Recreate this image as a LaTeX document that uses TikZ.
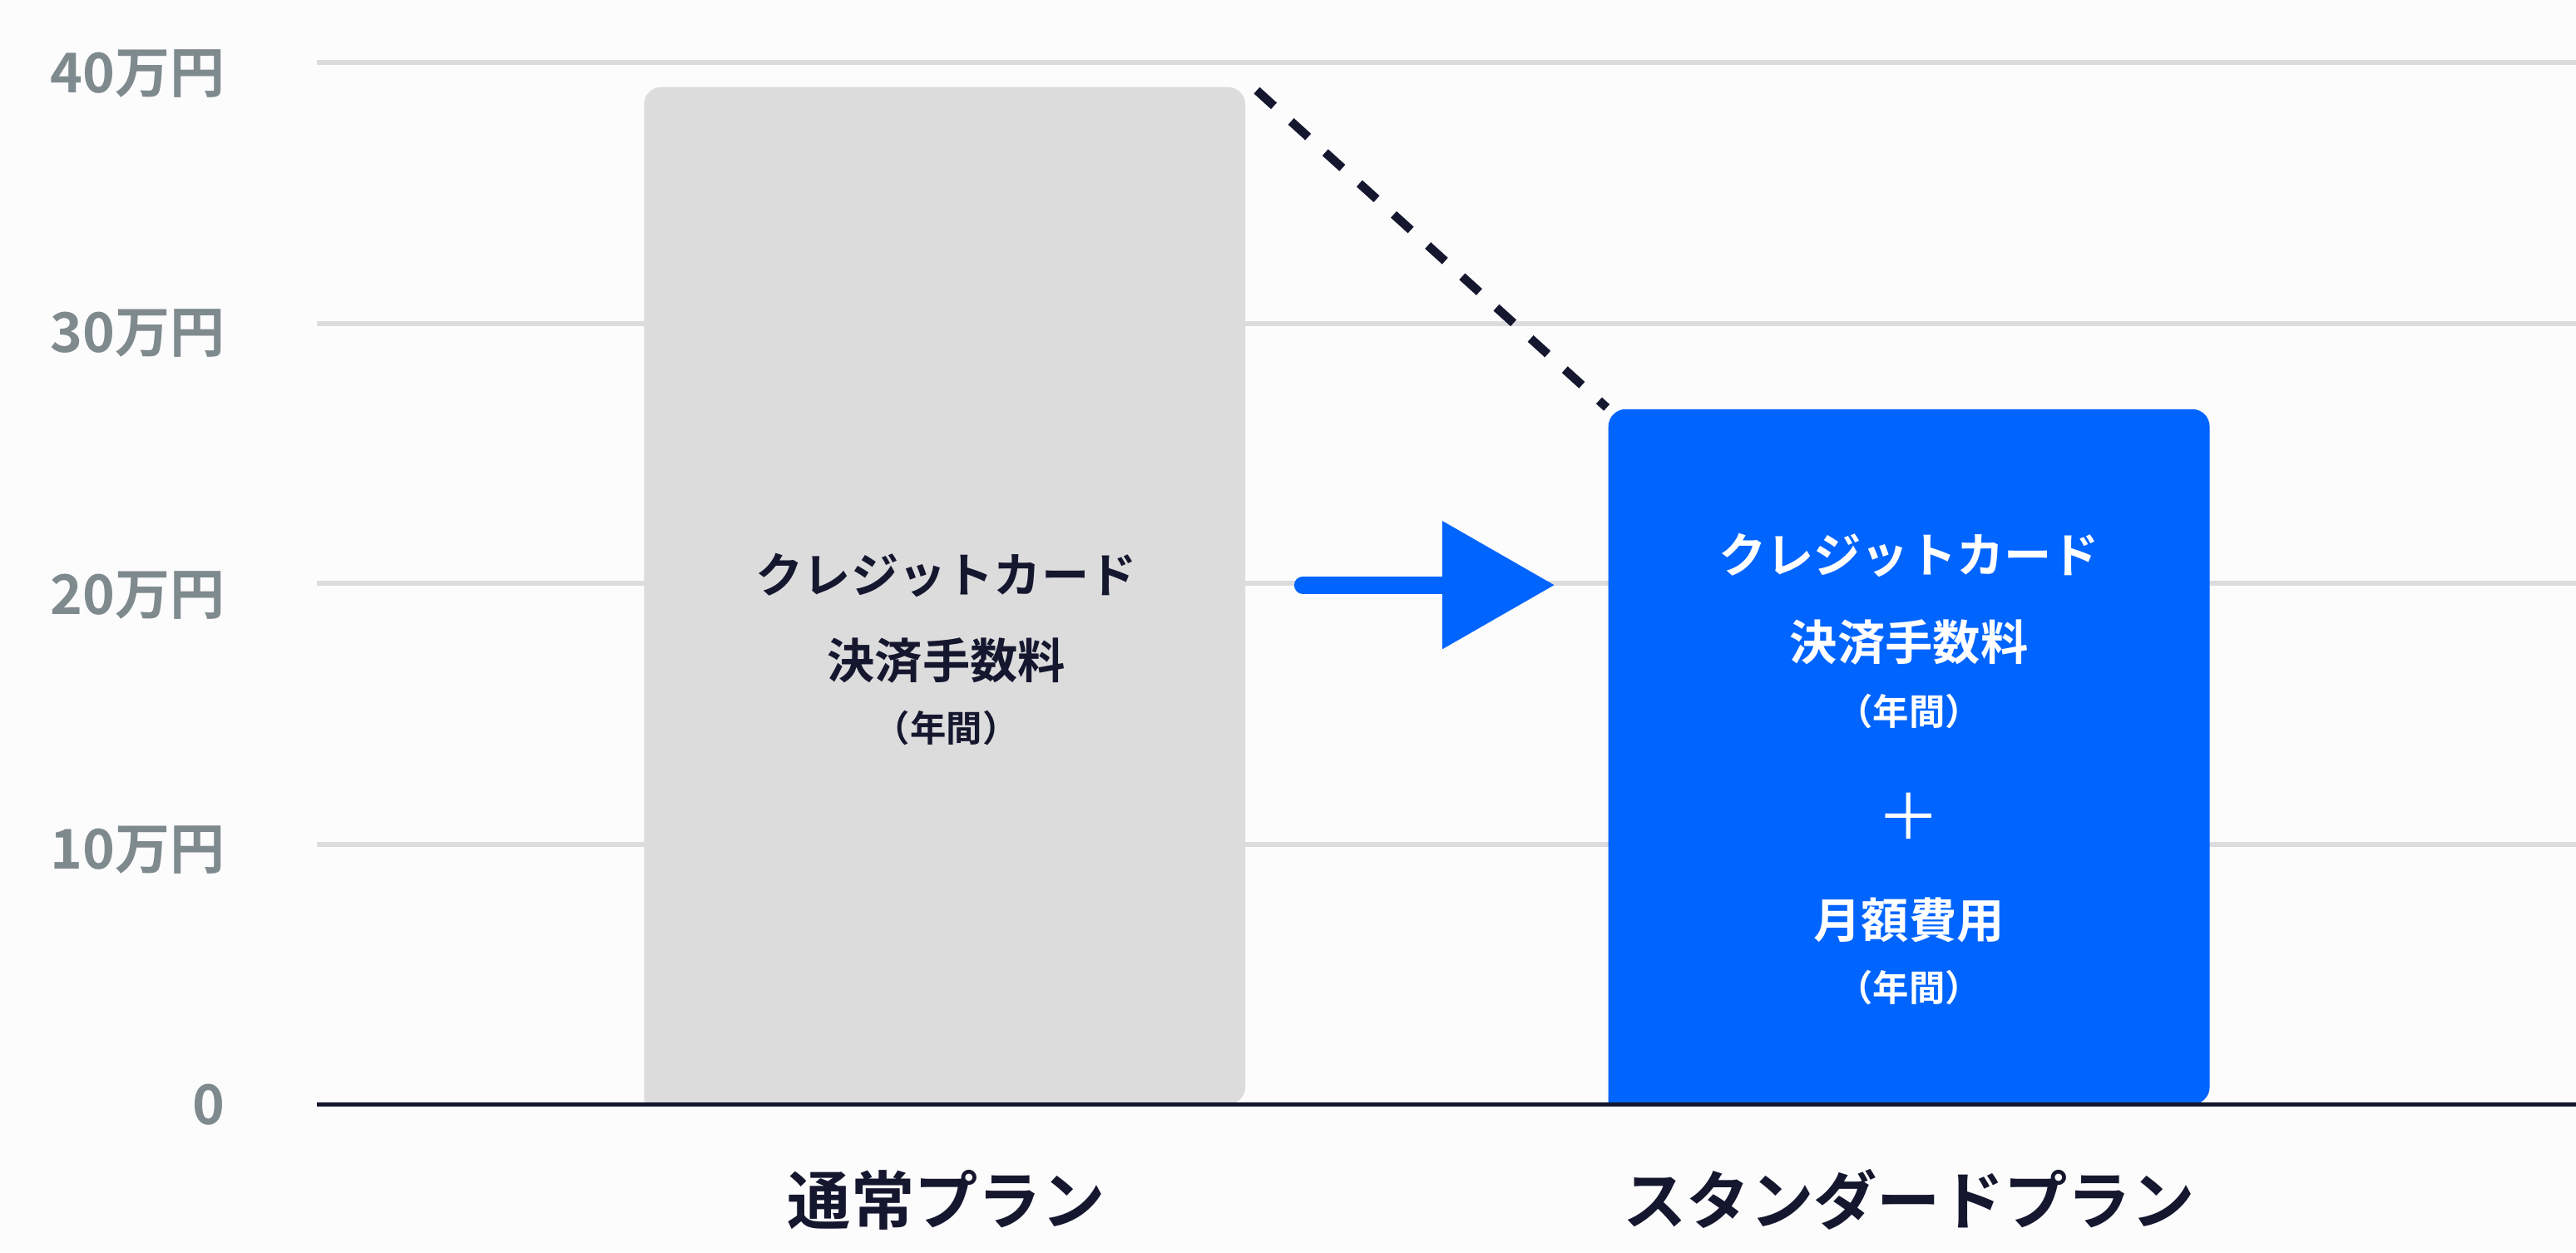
\documentclass[tikz,border=0pt]{standalone}
\usepackage{fontspec}
\setmainfont{Noto Sans CJK JP}[BoldFont={Noto Sans CJK JP Bold}]
\definecolor{navy}{HTML}{14172E}
\definecolor{gridc}{HTML}{DCDCDE}
\definecolor{barg}{HTML}{DCDCDD}
\definecolor{blu}{HTML}{0064FF}
\definecolor{axl}{HTML}{7F8A8E}
\definecolor{bg}{HTML}{FCFCFD}
\begin{document}
\begin{tikzpicture}[x=0.02cm,y=-0.02cm,
  grid/.style={gridc,line width=1.6pt},
  ylab/.style={anchor=east,text=axl,font=\fontsize{19}{20}\selectfont\bfseries},
  big/.style={font=\fontsize{16.5}{18}\selectfont\bfseries},
  small/.style={font=\fontsize{12.5}{14}\selectfont\bfseries},
  cat/.style={text=navy,font=\fontsize{22}{24}\selectfont\bfseries}]
\fill[bg] (0,0) rectangle (1568,762);
\useasboundingbox (0,0) rectangle (1568,762);
\foreach \y in {38,197,355,514} \draw[grid] (193,\y) -- (1568,\y);
\node[ylab] (l40) at (143,45) {40万円};
\node[ylab] (l30) at (143,203) {30万円};
\node[ylab] (l20) at (143,362) {20万円};
\node[ylab] (l10) at (143,517) {10万円};
\node[ylab] (l0) at (143,672) {0};
\fill[barg,rounded corners=6pt] (392,672) -- (392,53) -- (758,53) -- (758,672) [sharp corners] -- cycle;
\fill[blu,rounded corners=6pt] (979,672) -- (979,249) -- (1345,249) -- (1345,672) [sharp corners] -- cycle;
\draw[navy,line width=1.4pt] (193,672) -- (1568,672);
\coordinate (d1) at (765,55); \coordinate (d2) at (978,248);
\draw[navy,line width=3pt,dash pattern=on 8pt off 8pt] (d1) -- (d2);
\coordinate (a1) at (793,356); \coordinate (a2) at (882,356);
\draw[blu,line width=6pt,line cap=round] (a1) -- (a2);
\fill[blu] (878,317) -- (946,356) -- (878,395) -- cycle;
\begin{scope}[text=navy]
\node[big] (g1) at (576,350) {クレジットカード};
\node[big] (g2) at (576,402) {決済手数料};
\node[small] (g3) at (576,443) {（年間）};
\end{scope}
\begin{scope}[text=white]
\node[big] (b1) at (1162,338) {クレジットカード};
\node[big] (b2) at (1162,391) {決済手数料};
\node[small] (b3) at (1162,433) {（年間）};
\node[font=\fontsize{22}{24}\selectfont] (b4) at (1162,497) {＋};
\node[big] (b5) at (1162,560) {月額費用};
\node[small] (b6) at (1162,601) {（年間）};
\end{scope}
\node[cat] (c1) at (576,730) {通常プラン};
\node[cat] (c2) at (1162,730) {スタンダードプラン};
\end{tikzpicture}
\end{document}
